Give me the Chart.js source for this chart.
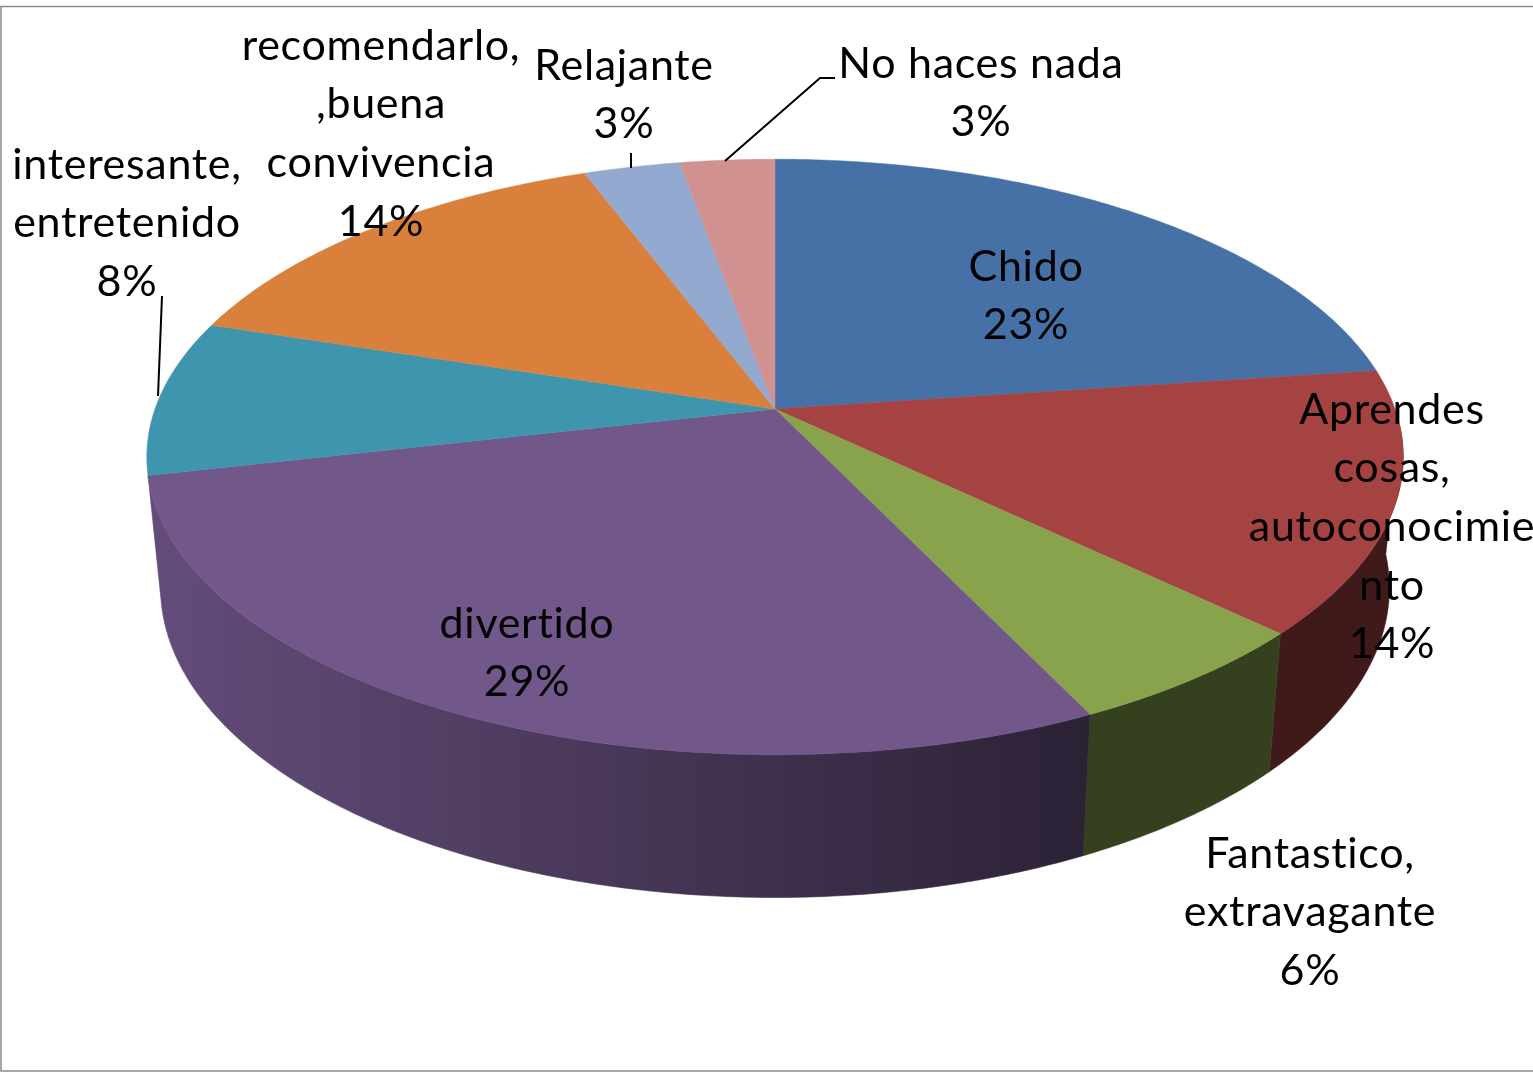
<!DOCTYPE html>
<html>
<head>
<meta charset="utf-8">
<style>html,body{margin:0;padding:0;background:#fff;overflow:hidden}canvas{display:block}</style>
<script src="https://cdn.jsdelivr.net/npm/chart.js@4"></script>
</head>
<body>
<canvas id="c" width="1533" height="1072"></canvas>
<script>
const categories = ["Chido","Aprendes cosas, autoconocimiento","Fantastico, extravagante","divertido","interesante, entretenido","recomendarlo, ,buena convivencia","Relajante","No haces nada"];
const values = [22.85,14.25,5.75,28.6,8.45,14.35,2.9,2.85];
const labelLines = [["Chido"],["Aprendes","cosas,","autoconocimie","nto"],["Fantastico,","extravagante"],["divertido"],["interesante,","entretenido"],["recomendarlo,",",buena","convivencia"],["Relajante"],["No haces nada"]];
const colors = ["#4571a6","#a54342","#89a34c","#72578b","#4095ae","#d9813c","#93a9cf","#d09190"];

// layout of the projected pie and labels (not data)
const P = {cx:775, cy:409, A:620, B:290, k:0.161, sx:0.978, by:538, sy:1.04};
const labelAnchor = [[1026,267],[1392,410],[1310,854],[527,624],[127,165],[381,46],[624,66],[981,64]];
const leaders = [[[725,161],[820,78],[835,78]],[[631,168],[631,153]],[[158,396],[162,296]]];
const FONT = '43px Lato', LINE = 58.6;

function topPt(a){const u=Math.cos(a),v=Math.sin(a),d=1-P.k*v;return [P.cx+P.A*u/d,P.cy+P.B*v/d];}
function botPt(a){const t=topPt(a);return [P.cx+P.sx*(t[0]-P.cx),P.by+P.sy*(t[1]-P.cy)];}
function shade(hex,f){const n=parseInt(hex.slice(1),16);return `rgb(${Math.round((n>>16&255)*f)},${Math.round((n>>8&255)*f)},${Math.round((n&255)*f)})`;}

const pie3d = {
  id:'pie3d',
  beforeDatasetsDraw(chart){
    const ctx=chart.ctx, arcs=chart.getDatasetMeta(0).data;
    ctx.save();
    ctx.strokeStyle='#8a8a8a';ctx.lineWidth=1.5;
    ctx.beginPath();ctx.moveTo(1533,6.5);ctx.lineTo(1,6.5);ctx.lineTo(1,1071);ctx.lineTo(1533,1071);ctx.stroke();
    // side walls of the slices that face the viewer
    arcs.forEach((arc,i)=>{
      if(Math.sin((arc.startAngle+arc.endAngle)/2)<0.1) return;
      const n=Math.max(8,Math.ceil((arc.endAngle-arc.startAngle)/0.01)), as=[];
      for(let j=0;j<=n;j++){
        const a=arc.startAngle+(arc.endAngle-arc.startAngle)*j/n;
        if(Math.sin(a)>0.05) as.push(a);
      }
      if(as.length<2) return;
      const g=ctx.createLinearGradient(160,0,1085,0);
      g.addColorStop(0,shade(colors[i],0.87));
      g.addColorStop(1,shade(colors[i],0.39));
      ctx.fillStyle=g;ctx.strokeStyle=g;ctx.lineWidth=0.6;
      ctx.beginPath();
      as.forEach((a,j)=>{const p=topPt(a);j?ctx.lineTo(...p):ctx.moveTo(...p);});
      as.slice().reverse().forEach(a=>ctx.lineTo(...botPt(a)));
      ctx.closePath();ctx.fill();ctx.stroke();
    });
    // top faces
    arcs.forEach((arc,i)=>{
      const n=Math.max(4,Math.ceil((arc.endAngle-arc.startAngle)/0.012));
      ctx.fillStyle=colors[i];ctx.strokeStyle=colors[i];ctx.lineWidth=0.5;
      ctx.beginPath();ctx.moveTo(P.cx,P.cy);
      for(let j=0;j<=n;j++){ctx.lineTo(...topPt(arc.startAngle+(arc.endAngle-arc.startAngle)*j/n));}
      ctx.closePath();ctx.fill();ctx.stroke();
    });
    ctx.strokeStyle='#000';ctx.lineWidth=2;
    leaders.forEach(l=>{ctx.beginPath();l.forEach((p,j)=>j?ctx.lineTo(...p):ctx.moveTo(...p));ctx.stroke();});
    ctx.fillStyle='#000';ctx.font=FONT;ctx.letterSpacing='0.7px';ctx.textAlign='center';ctx.textBaseline='middle';
    labelLines.forEach((lines,i)=>{
      const [x,y]=labelAnchor[i];
      [...lines,Math.round(values[i])+'%'].forEach((s,j)=>ctx.fillText(s,x,y+j*LINE));
    });
    ctx.restore();
    return false;
  }
};

new Chart(document.getElementById('c'),{
  type:'pie',
  data:{labels:categories,datasets:[{data:values,backgroundColor:colors,borderWidth:0}]},
  options:{responsive:false,animation:false,plugins:{legend:{display:false},title:{display:false},tooltip:{enabled:false}}},
  plugins:[pie3d]
});
</script>
</body>
</html>
